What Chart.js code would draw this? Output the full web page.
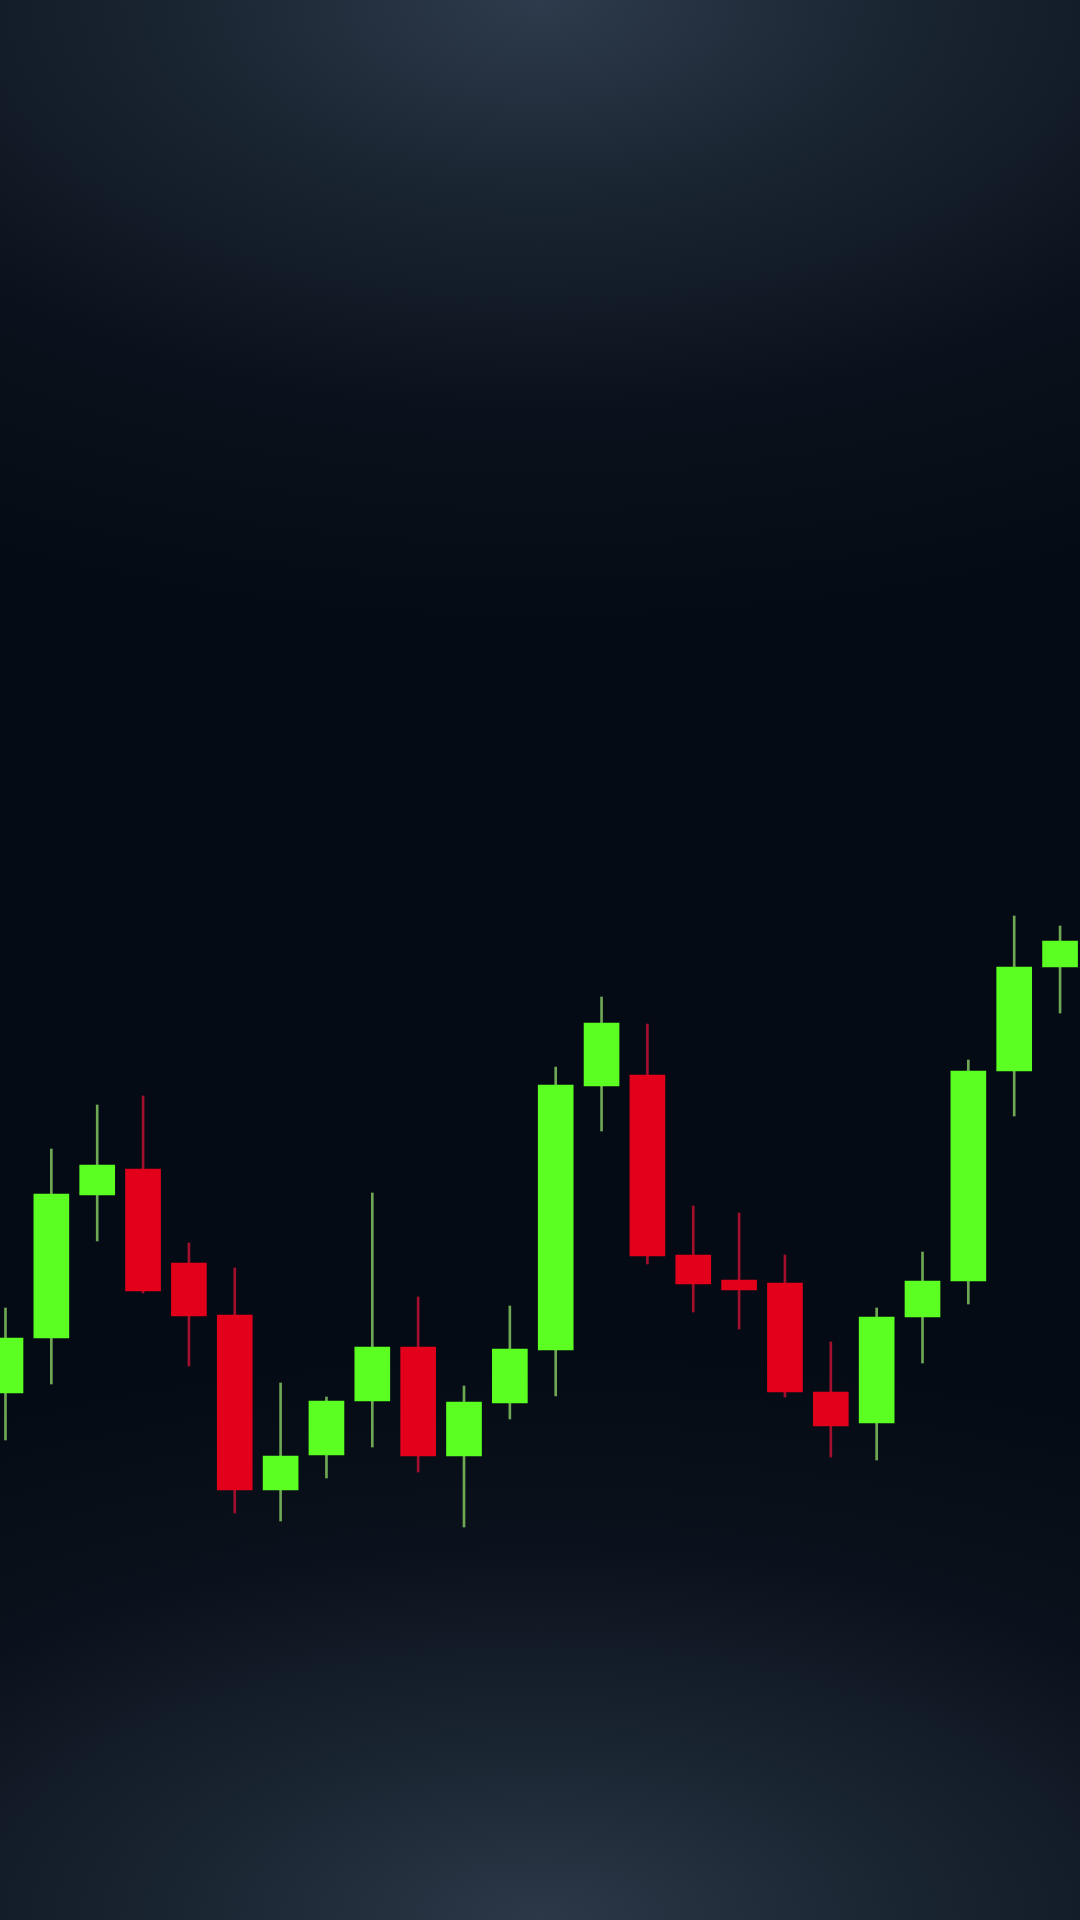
<!DOCTYPE html>
<html>
<head>
<meta charset="utf-8">
<script src="https://cdn.jsdelivr.net/npm/chart.js@4.4.1/dist/chart.umd.min.js"></script>
<style>
  html, body { margin: 0; padding: 0; width: 1080px; height: 1920px; overflow: hidden; }
  body {
    background:
      radial-gradient(ellipse 110% 33% at 50% 0%, rgba(46,59,76,1) 0%, rgba(32,44,58,0.8) 30%, rgba(16,25,37,0.45) 65%, rgba(6,12,22,0) 100%),
      radial-gradient(ellipse 110% 30% at 50% 100%, rgba(44,56,72,1) 0%, rgba(32,44,58,0.8) 30%, rgba(16,25,37,0.45) 65%, rgba(6,12,22,0) 100%),
      #050b14;
  }
  #c { display: block; }
</style>
</head>
<body>
<canvas id="c" width="1080" height="1920" style="width:1080px;height:1920px"></canvas>
<script>
// Candle data (arbitrary price units)
const opens  = [52.7, 58.2, 72.5, 75.1, 65.7, 60.5, 43.0, 46.5, 51.9, 57.3, 46.4, 51.7, 57.0, 83.4, 84.5, 66.5, 64.0, 63.7, 52.8, 49.7, 60.3, 63.9, 84.9, 95.3];
const highs  = [61.2, 77.1, 81.5, 82.4, 67.7, 65.2, 53.7, 52.3, 72.7, 62.3, 53.4, 61.4, 85.3, 92.3, 89.6, 71.4, 70.7, 66.5, 57.8, 61.2, 66.8, 86.0, 100.4, 99.4];
const lows   = [48.0, 53.6, 67.9, 62.7, 55.4, 40.7, 39.9, 44.2, 47.3, 44.8, 39.3, 50.1, 52.4, 78.9, 65.6, 60.8, 59.1, 52.3, 46.3, 46.0, 55.7, 61.6, 80.4, 90.7];
const closes = [58.2, 72.6, 75.5, 62.9, 60.4, 43.0, 46.4, 51.9, 57.3, 46.4, 51.8, 57.1, 83.5, 89.7, 66.4, 63.6, 63.0, 52.8, 49.4, 60.3, 63.9, 84.9, 95.3, 97.9];

const UP_BODY = '#5cff22';
const DOWN_BODY = '#e2001b';
const UP_WICK = '#6fa855';
const DOWN_WICK = '#a3102e';

const idx = opens.map((_, i) => i);
const isUp = idx.map(i => closes[i] >= opens[i]);

const wickData = idx.map(i => ({ x: i, y: [lows[i], highs[i]] }));
const bodyData = idx.map(i => ({ x: i, y: [opens[i], closes[i]] }));

new Chart(document.getElementById('c'), {
  type: 'bar',
  data: {
    datasets: [
      {
        label: 'wick',
        data: wickData,
        backgroundColor: idx.map(i => isUp[i] ? UP_WICK : DOWN_WICK),
        borderWidth: 0,
        barThickness: 2,
        grouped: false,
        order: 2
      },
      {
        label: 'body',
        data: bodyData,
        backgroundColor: idx.map(i => isUp[i] ? UP_BODY : DOWN_BODY),
        borderWidth: 0,
        barThickness: 35,
        grouped: false,
        order: 1
      }
    ]
  },
  options: {
    responsive: false,
    animation: false,
    devicePixelRatio: 1,
    layout: { padding: 0 },
    plugins: { legend: { display: false }, tooltip: { enabled: false } },
    scales: {
      x: { type: 'linear', min: -0.12, max: 23.435, offset: false, display: false, grid: { display: false } },
      y: { min: 0, max: 192, display: false, grid: { display: false } }
    }
  }
});
</script>
</body>
</html>
